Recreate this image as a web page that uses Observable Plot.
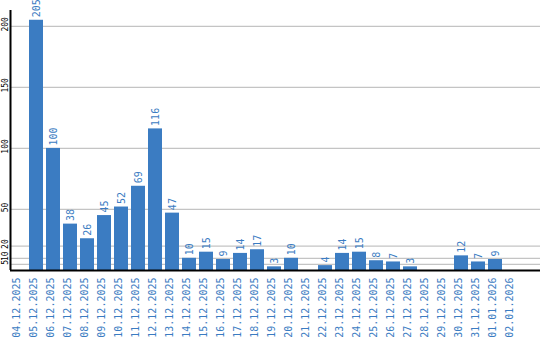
<!DOCTYPE html>
<html>
<head>
<meta charset="utf-8">
<script src="https://cdn.jsdelivr.net/npm/d3@7"></script>
<script src="https://cdn.jsdelivr.net/npm/@observablehq/plot@0.6"></script>
<style>
  html, body { margin: 0; padding: 0; background: #fff; }
  #chart svg { display: block; }
</style>
</head>
<body>
<div id="chart"></div>
<script>
const dates = ["04.12.2025","05.12.2025","06.12.2025","07.12.2025","08.12.2025","09.12.2025","10.12.2025","11.12.2025","12.12.2025","13.12.2025","14.12.2025","15.12.2025","16.12.2025","17.12.2025","18.12.2025","19.12.2025","20.12.2025","21.12.2025","22.12.2025","23.12.2025","24.12.2025","25.12.2025","26.12.2025","27.12.2025","28.12.2025","29.12.2025","30.12.2025","31.12.2025","01.01.2026","02.01.2026"];
const values = [null,205,100,38,26,45,52,69,116,47,10,15,9,14,17,3,10,null,4,14,15,8,7,3,null,null,12,7,9,null];
const yTicks = [5,10,20,50,100,150,200];

const blue = "#3b7cc2";
const mono = "DejaVu Sans Mono, monospace";
const data = dates.map((d, i) => ({date: d, value: values[i]}));
const bars = data.filter(d => d.value != null);

const leftLine = (index, scales, values, dims) => {
  const ns = "http://www.w3.org/2000/svg";
  const l = document.createElementNS(ns, "line");
  l.setAttribute("x1", dims.marginLeft + 0.5);
  l.setAttribute("x2", dims.marginLeft + 0.5);
  l.setAttribute("y1", scales.y(scales.y.domain ? 213 : 213));
  l.setAttribute("y2", scales.y(0));
  l.setAttribute("stroke", "#000");
  l.setAttribute("stroke-width", 2);
  return l;
};

const chart = Plot.plot({
  width: 540,
  height: 340,
  marginLeft: 10,
  marginRight: 0,
  marginTop: 10,
  marginBottom: 70,
  style: {background: "#fff"},
  x: {type: "band", domain: dates, range: [10, 520], paddingInner: 0.18, paddingOuter: 0.09, axis: null},
  y: {domain: [0, 213], axis: null},
  marks: [
    Plot.ruleY(yTicks, {stroke: "#c4c4c4", strokeWidth: 1.2}),
    Plot.barY(bars, {x: "date", y: "value", fill: blue}),
    Plot.text(bars, {x: "date", y: "value", text: d => String(d.value), rotate: -90, textAnchor: "start", dy: -3, fill: blue, fontFamily: mono, fontSize: 10}),
    Plot.text(yTicks, {y: d => d, text: d => String(d), frameAnchor: "left", dx: -5, dy: -2, rotate: -90, textAnchor: "middle", fill: "#000", fontFamily: mono, fontSize: 8}),
    Plot.text(data, {x: "date", text: "date", frameAnchor: "bottom", dy: 7, rotate: -90, textAnchor: "end", fill: blue, fontFamily: mono, fontSize: 10}),
    Plot.ruleY([0], {stroke: "#000", strokeWidth: 2}),
    leftLine
  ]
});
document.getElementById("chart").appendChild(chart);
</script>
</body>
</html>
